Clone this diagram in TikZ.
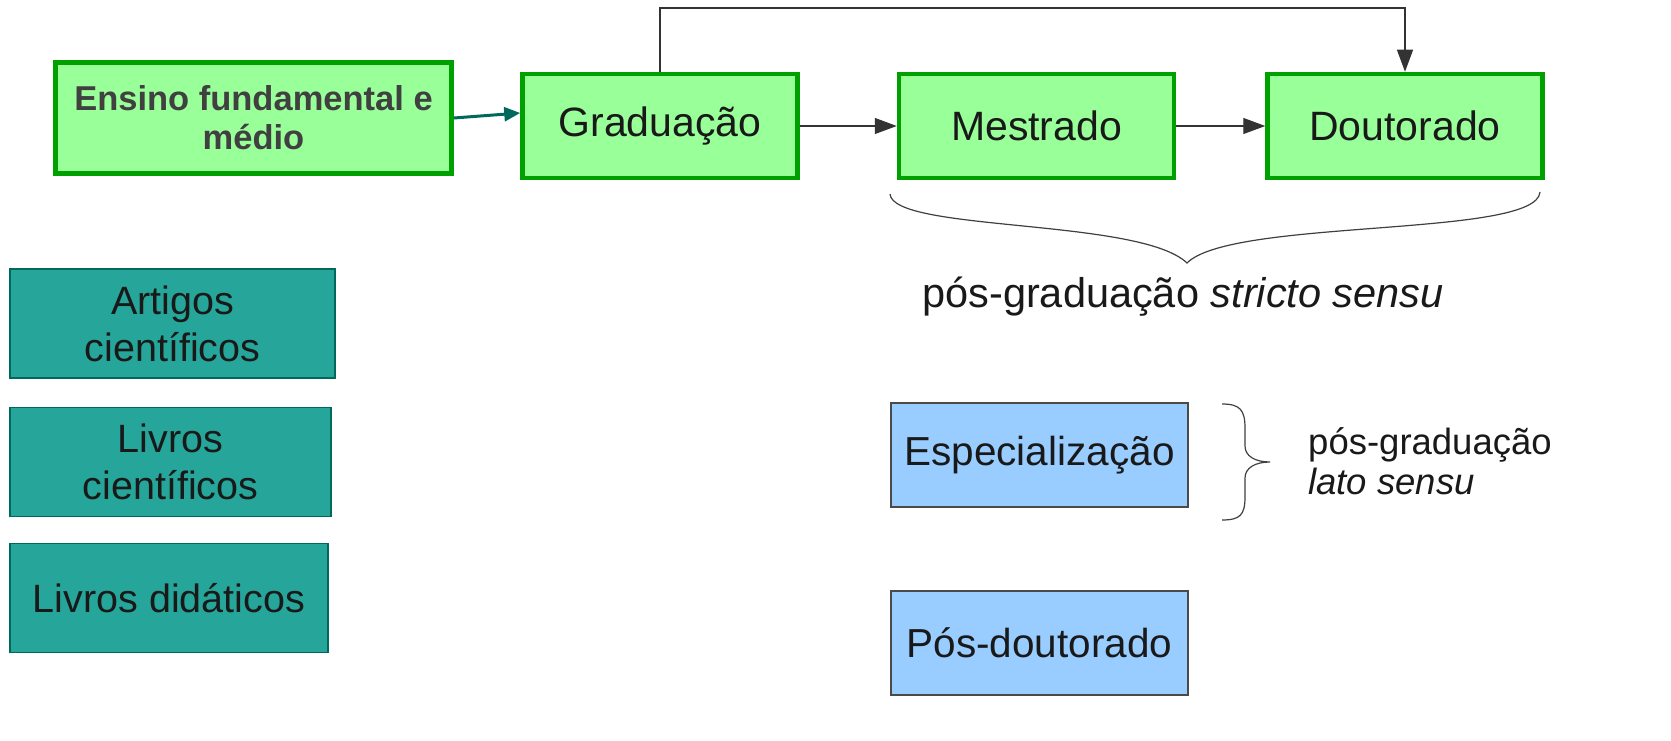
\documentclass[tikz,border=0pt]{standalone}
\usepackage{fontspec}
\setmainfont{Liberation Sans}
\usetikzlibrary{arrows.meta}
\definecolor{gfill}{HTML}{99FF99}
\definecolor{gdraw}{HTML}{00A000}
\definecolor{bfill}{HTML}{99CCFF}
\definecolor{bdraw}{HTML}{4A4A4A}
\definecolor{tfill}{HTML}{26A69A}
\definecolor{tdraw}{HTML}{00695C}
\definecolor{etext}{HTML}{404040}
\begin{document}
\begin{tikzpicture}[x=1pt,y=-1pt,
  greenbox/.style={draw=gdraw,fill=gfill,line width=4.5pt,inner sep=0pt,minimum width=275pt,minimum height=104pt,font=\fontsize{41}{46}\selectfont,text=black!90},
  bluebox/.style={draw=bdraw,fill=bfill,line width=1.5pt,inner sep=0pt,minimum width=297pt,minimum height=104pt,font=\fontsize{40.5}{46}\selectfont,text=black!90},
  tealbox/.style={draw=tdraw,fill=tfill,line width=1.5pt,inner sep=0pt,minimum height=109pt,align=center,font=\fontsize{39.5}{47}\selectfont,text=black!90},
  flow/.style={line width=1.2pt,draw=black!80,-{Triangle[length=22pt,width=16pt]}},
  brace/.style={line width=1.2pt,draw=black!75},
  lbl/.style={inner sep=0pt,text=black!90}]
\useasboundingbox (0,0) rectangle (1671,741);
\fill[white] (0,0) rectangle (1671,741);
% green boxes
\node[greenbox,minimum width=396pt,minimum height=111pt,align=center,text=etext,font=\bfseries\fontsize{34.5}{39}\selectfont] (ens) at (253.5,118) {Ensino fundamental e\\médio};
\node[greenbox] (grad) at (660,126) {Graduação};
\node[greenbox] (mest) at (1036.5,126) {Mestrado};
\node[greenbox] (dout) at (1405,126) {Doutorado};
% connectors
\draw[line width=3pt,draw=tdraw,-{Triangle[length=16pt,width=14pt]}] (ens.east |- 0,118) -- (grad.west |- 0,113);
\draw[flow] (grad) -- (mest);
\draw[flow] (mest) -- (dout);
\coordinate (tl) at (660,8);
\coordinate (tr) at (1405,8);
\draw[flow] (grad.north) -- (tl) -- (tr) -- (dout.north);
% stricto sensu brace
\coordinate (b1) at (890,194);
\coordinate (btip) at (1187,263);
\coordinate (b2) at (1540,192);
\draw[brace] (b1) .. controls (893,232) and (1140,218) .. (btip) .. controls (1232,218) and (1537,238) .. (b2);
\node[lbl,font=\fontsize{41.5}{46}\selectfont] (stricto) at (1183,297) {pós-graduação \textit{stricto sensu}};
% blue boxes
\node[bluebox] (esp) at (1039.5,455) {Especialização};
\node[bluebox] (pos) at (1039.5,643) {Pós-doutorado};
% lato sensu brace
\coordinate (r1) at (1222,404);
\coordinate (rtip) at (1270,462);
\coordinate (r2) at (1222,520);
\draw[brace] (r1) .. controls (1240,404) and (1245,410) .. (1245,428) -- (1245,446) .. controls (1245,456) and (1255,462) .. (rtip) .. controls (1255,462) and (1245,468) .. (1245,478) -- (1245,497) .. controls (1245,515) and (1240,520) .. (r2);
\node[lbl,anchor=west,align=left,font=\fontsize{36.5}{40}\selectfont] (lato) at (1308,461) {pós-graduação\\\textit{lato sensu}};
% teal boxes
\node[tealbox,minimum width=325pt] (art) at (172.5,323.5) {Artigos\\científicos};
\node[tealbox,minimum width=321pt] (livc) at (170.5,462) {Livros\\científicos};
\node[tealbox,minimum width=318pt] (livd) at (169,598) {Livros didáticos};
\end{tikzpicture}
\end{document}
